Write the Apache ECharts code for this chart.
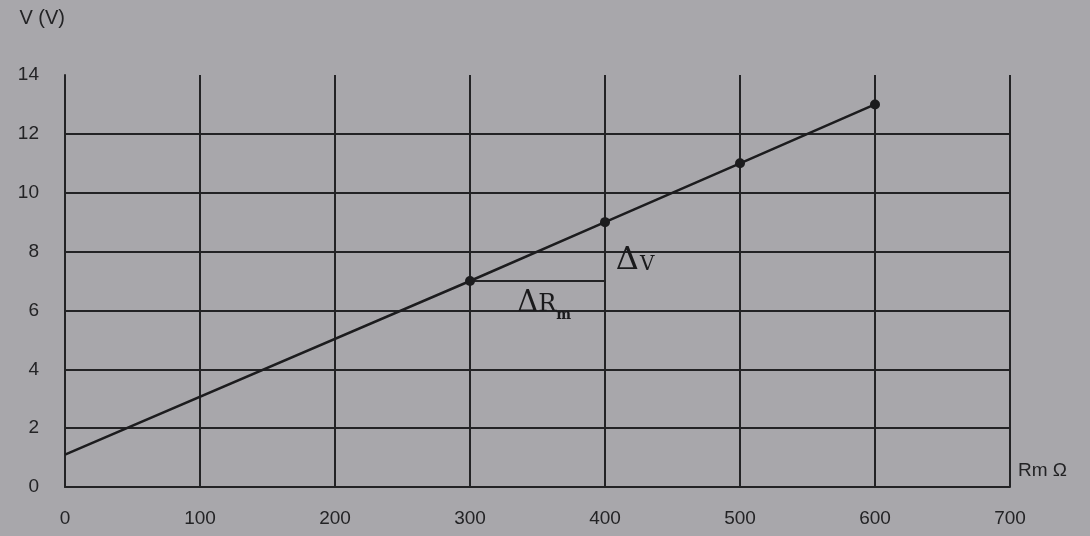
<!DOCTYPE html>
<html><head><meta charset="utf-8">
<script src="https://cdn.jsdelivr.net/npm/echarts@6/dist/echarts.min.js"></script>
<style>html,body{margin:0;padding:0;background:#a8a7ab}#c{width:1090px;height:536px}</style>
</head><body><div id="c"></div>
<script>
// Data
const rm = [0, 300, 400, 500, 600];          // Rm (Ω)
const volts = [1.1, 7, 9, 11, 13];           // V (V)
const markedPoint = [false, true, true, true, true];
const triangleRm = [300, 400, 400];
const triangleV = [7, 7, 9];
const deltaVLabel = {rm: 408, v: 7.7, delta: 'Δ', text: 'V'};
const deltaRLabel = {rm: 335, v: 6.25, delta: 'Δ', text: 'R', sub: 'm'};
const xName = 'Rm Ω';
const yName = 'V (V)';

const ink = '#232325';
const font = 'Liberation Sans';
const chart = echarts.init(document.getElementById('c'));
chart.setOption({
  backgroundColor: '#a8a7ab',
  animation: false,
  grid: {left: 65, right: 80, top: 75, bottom: 49},
  xAxis: {
    type: 'value', min: 0, max: 700, interval: 100,
    name: xName, nameLocation: 'end', nameGap: 8,
    nameTextStyle: {color: ink, fontSize: 19, fontFamily: font, align: 'left', verticalAlign: 'bottom', padding: [0, 0, 7, 0]},
    axisLine: {show: true, lineStyle: {color: ink, width: 2}},
    axisTick: {show: false},
    axisLabel: {color: ink, fontSize: 19, fontFamily: font, margin: 22},
    splitLine: {show: true, lineStyle: {color: ink, width: 2}}
  },
  yAxis: {
    type: 'value', min: 0, max: 14, interval: 2,
    name: yName, nameLocation: 'end', nameGap: 47,
    nameTextStyle: {color: ink, fontSize: 20, fontFamily: font, align: 'right'},
    axisLine: {show: true, lineStyle: {color: ink, width: 2}},
    axisTick: {show: false},
    axisLabel: {color: ink, fontSize: 19, fontFamily: font, margin: 26},
    splitLine: {show: true, lineStyle: {color: [ink, ink, ink, ink, ink, ink, ink, 'rgba(0,0,0,0)'], width: 2}}
  },
  series: [
    {
      type: 'line',
      data: rm.map((x, i) => [x, volts[i]]),
      symbol: 'circle',
      symbolSize: (val, p) => markedPoint[p.dataIndex] ? 10 : 0,
      itemStyle: {color: '#1c1c1e'},
      lineStyle: {color: '#1c1c1e', width: 2.5},
      z: 5
    },
    {
      type: 'line',
      data: triangleRm.map((x, i) => [x, triangleV[i]]),
      symbol: 'none',
      lineStyle: {color: ink, width: 2},
      z: 4
    },
    {
      type: 'scatter',
      symbolSize: 0,
      data: [[deltaVLabel.rm, deltaVLabel.v]],
      label: {
        show: true, position: 'right', distance: 0, opacity: 1,
        formatter: () => '{a|' + deltaVLabel.delta + '}{b|' + deltaVLabel.text + '}',
        rich: {
          a: {color: '#1a1a1c', fontSize: 32, fontFamily: 'DejaVu Serif'},
          b: {color: '#1a1a1c', fontSize: 20, fontFamily: 'DejaVu Serif', padding: [8, 0, 0, 1]}
        }
      }
    },
    {
      type: 'scatter',
      symbolSize: 0,
      data: [[deltaRLabel.rm, deltaRLabel.v]],
      label: {
        show: true, position: 'right', distance: 0, opacity: 1,
        formatter: () => '{a|' + deltaRLabel.delta + '}{r|' + deltaRLabel.text + '}{b|' + deltaRLabel.sub + '}',
        rich: {
          a: {color: '#1a1a1c', fontSize: 29, fontFamily: 'DejaVu Serif'},
          r: {color: '#1a1a1c', fontSize: 24, fontFamily: 'DejaVu Serif', padding: [4, 0, 0, 0]},
          b: {color: '#1a1a1c', fontSize: 14, fontFamily: 'DejaVu Serif', fontWeight: 'bold', padding: [24, 0, 0, 0]}
        }
      }
    }
  ]
});
</script></body></html>
